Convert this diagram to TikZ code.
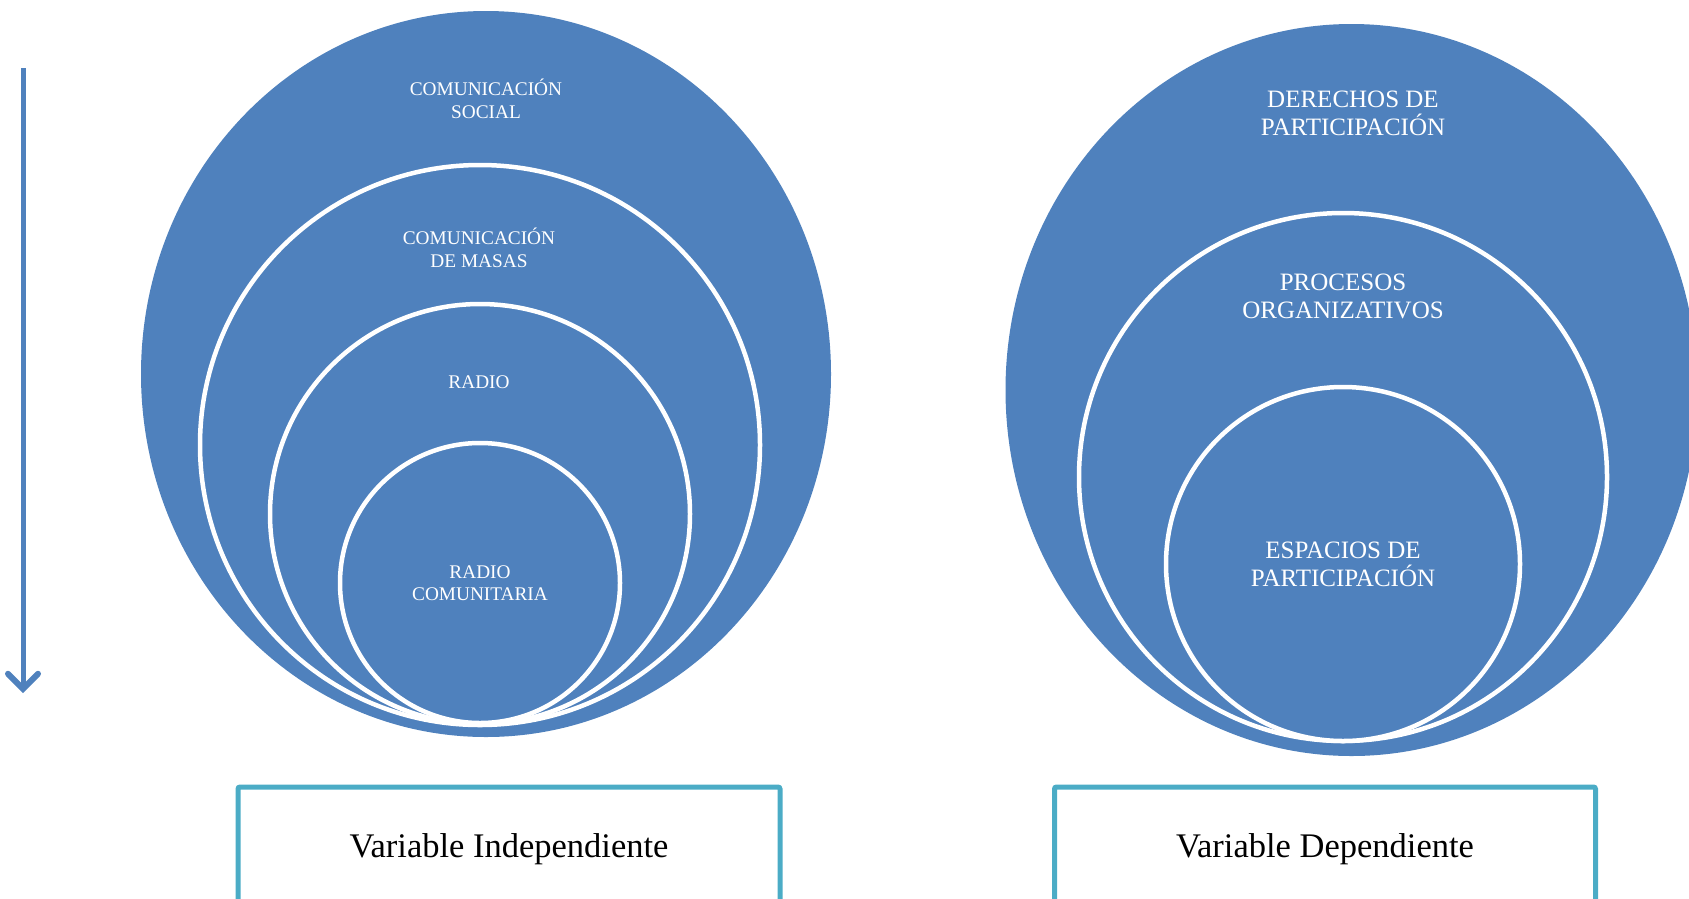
\documentclass[tikz,border=0pt]{standalone}
\usepackage{fontspec}
\setmainfont{Liberation Serif}
\usetikzlibrary{arrows.meta}
\definecolor{cblue}{HTML}{4F81BD}
\definecolor{caqua}{HTML}{4BACC6}
\begin{document}
\begin{tikzpicture}[x=1pt,y=-1pt,
  ring/.style={fill=cblue, draw=white, line width=4.5pt},
  lbl/.style={text=white, align=center, font=\fontsize{19.3}{22.5}\selectfont, inner sep=0pt},
  lblbig/.style={text=white, align=center, font=\fontsize{25}{28}\selectfont, inner sep=0pt},
  varbox/.style={draw=caqua, line width=5pt, rounded corners=2pt, minimum height=124pt, inner sep=0pt,
                 font=\fontsize{34.5}{40}\selectfont, text=black}]
\useasboundingbox (0,0) rectangle (1689,898);
\clip (0,0) rectangle (1689,898);
% left group
\fill[cblue] (486,374) ellipse [x radius=345pt, y radius=363pt];
\draw[ring] (480,445) circle [radius=280pt];
\draw[ring] (480,514) circle [radius=210pt];
\draw[ring] (480,583) circle [radius=140pt];
\node[lbl] (cs) at (486,99) {COMUNICACIÓN\\SOCIAL};
\node[lbl] (cm) at (479,248) {COMUNICACIÓN\\DE MASAS};
\node[lbl] (ra) at (479,382) {RADIO};
\node[lbl] (rc) at (480,583) {RADIO\\COMUNITARIA};
% right group
\fill[cblue] (1351.5,390) ellipse [x radius=346pt, y radius=366pt];
\draw[ring] (1343,477) circle [radius=264pt];
\draw[ring] (1343,564) circle [radius=177pt];
\node[lblbig] (dp) at (1353,113) {DERECHOS DE\\PARTICIPACIÓN};
\node[lblbig] (po) at (1343,296) {PROCESOS\\ORGANIZATIVOS};
\node[lblbig] (ep) at (1343,564) {ESPACIOS DE\\PARTICIPACIÓN};
% arrow
\coordinate (atop) at (23,68);
\coordinate (abot) at (23,693);
\draw[cblue, line width=5pt, -{Straight Barb[length=15pt, width=30pt, line width=6pt, line cap=round]}] (atop) -- (abot);
% boxes
\node[varbox, minimum width=542pt] (vi) at (509,849) {Variable Independiente};
\node[varbox, minimum width=541pt] (vd) at (1325,849) {Variable Dependiente};
\end{tikzpicture}
\end{document}
